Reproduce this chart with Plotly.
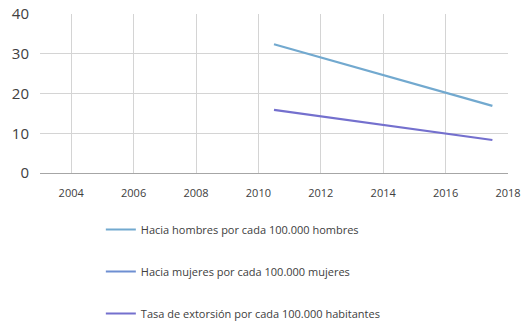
import plotly.graph_objects as go

series_names = [
    "Hacia hombres por cada 100.000 hombres",
    "Hacia mujeres por cada 100.000 mujeres",
    "Tasa de extorsión por cada 100.000 habitantes",
]
years_hombres = [2010.5, 2017.5]
values_hombres = [32.4, 16.9]
years_mujeres = [2010.5, 2017.5]
values_mujeres = [None, None]
years_tasa = [2010.5, 2017.5]
values_tasa = [15.9, 8.3]
x_ticks = [2004, 2006, 2008, 2010, 2012, 2014, 2016, 2018]
y_ticks = [0, 10, 20, 30, 40]

colors = ["#72A9CF", "#6E8FD2", "#7470CE"]

fig = go.Figure()
data = [(years_hombres, values_hombres), (years_mujeres, values_mujeres), (years_tasa, values_tasa)]
for i, (name, (xs, ys)) in enumerate(zip(series_names, data)):
    fig.add_trace(go.Scatter(
        x=xs, y=ys, mode="lines", name=name,
        line=dict(color=colors[i], width=2.2),
        legendgroup=f"g{i}", showlegend=True,
    ))

fig.update_layout(
    width=521, height=323,
    margin=dict(l=40, r=13, t=14, b=150, autoexpand=False),
    paper_bgcolor="white", plot_bgcolor="white",
    font=dict(family="Open Sans", color="#404040"),
    legend=dict(
        x=0.13, y=-0.264, xanchor="left", yanchor="top",
        font=dict(size=11, color="#404040"),
        tracegroupgap=23, bgcolor="rgba(0,0,0,0)",
    ),
)
fig.update_xaxes(
    range=[2003, 2018], tickvals=x_ticks, ticktext=[str(t) for t in x_ticks],
    showgrid=True, gridcolor="#D4D4D4", gridwidth=1,
    showline=False, zeroline=False, automargin=False,
    tickfont=dict(size=11, color="#404040"),
    ticklabelstandoff=12,
)
fig.update_yaxes(
    range=[0, 40], tickvals=y_ticks,
    showgrid=True, gridcolor="#D4D4D4", gridwidth=1,
    zeroline=True, zerolinecolor="#A6A6A6", zerolinewidth=1,
    showline=False, automargin=False,
    tickfont=dict(size=15, color="#404040"),
    ticklabelstandoff=10,
)
fig.write_html(
    "out.html",
    config={"displayModeBar": False},
    post_script="document.body.style.margin='0px';",
)
